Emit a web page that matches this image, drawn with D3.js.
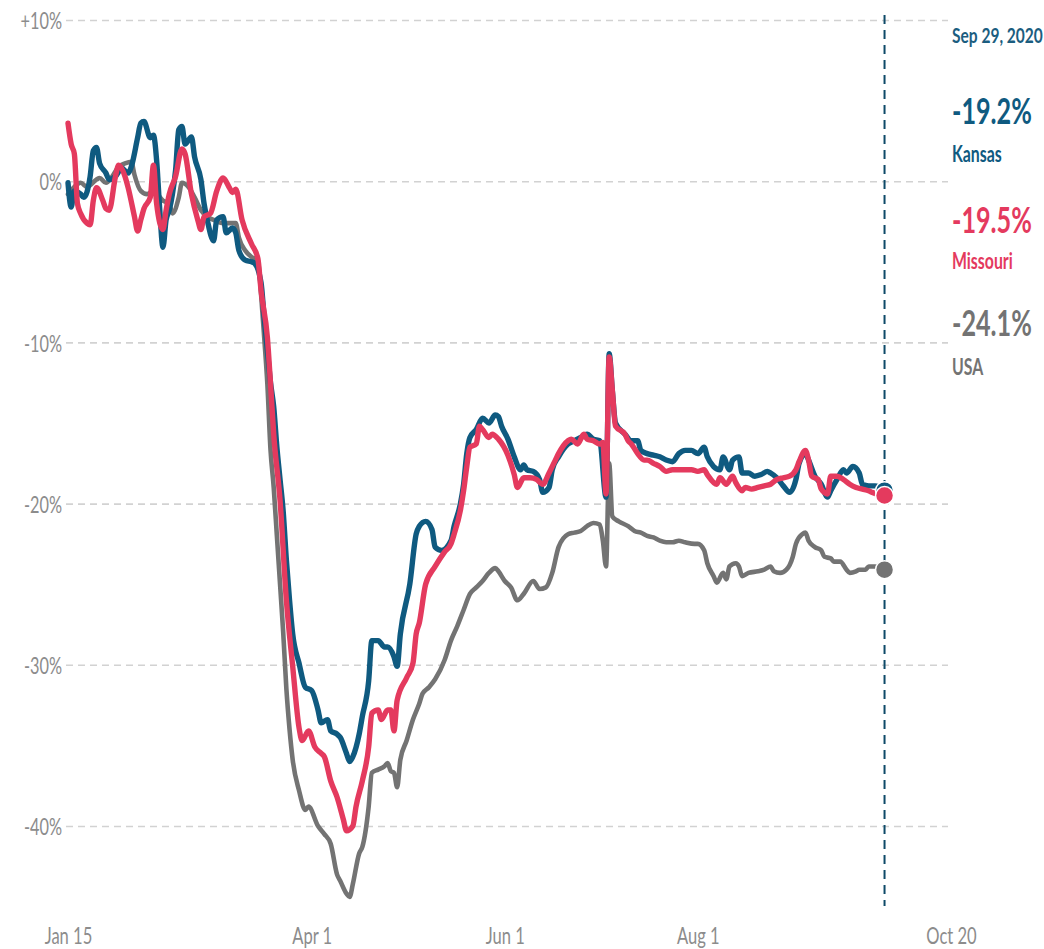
<!DOCTYPE html>
<html>
<head>
<meta charset="utf-8">
<script src="https://cdn.jsdelivr.net/npm/d3@7"></script>
<style>
  html, body { margin: 0; padding: 0; background: #fff; }
  svg { display: block; }
  text { font-family: Lato, "Open Sans", sans-serif; }
</style>
</head>
<body>
<svg id="chart" width="1044" height="949"></svg>
<script>
// ---------- DATA (days since Jan 15, 2020; % change) ----------
const startDate = Date.UTC(2020, 0, 15);
const endDate = Date.UTC(2020, 9, 20);

const kansasDays = [0,1,2,4,5,7,8,9,10,12,13,15,17,19,20,22,23,24,26,27,28,29,30,31,32,33,34,35,36,37,39,40,42,43,44,46,47,49,50,52,53,54,56,58,59,61,62,63,64,65,66,67,68,69,70,71,73,75,77,79,80,82,83,85,86,88,89,90,92,93,95,96,98,100,101,103,104,105,108,110,111,113,115,116,118,121,122,124,125,126,127,129,131,133,135,136,137,139,141,143,144,145,147,149,150,152,153,155,158,160,162,164,166,168,170,171,172,173,176,178,180,181,183,185,187,189,191,193,195,197,199,201,202,204,206,207,209,210,212,213,215,217,219,221,222,224,226,228,230,231,233,234,236,238,240,241,243,245,246,248,250,251,253,255,258];
const kansasValues = [-0.1,-1.6,-0.6,-0.8,-1.0,0.3,1.9,2.1,1.1,0.5,0.1,0.3,0.8,0.5,0.9,2.7,3.6,3.7,2.7,2.85,1.3,-1.8,-4.1,-2.4,-1.8,-0.8,0.7,3.2,3.4,2.3,2.75,1.5,0.1,-1.4,-2.4,-3.7,-2.4,-2.2,-3.2,-2.9,-3.2,-4.3,-4.9,-5.0,-5.1,-6.3,-8.5,-10.5,-12.5,-14.0,-16.5,-18.5,-20.5,-23.5,-26.0,-28.1,-29.9,-31.4,-31.6,-32.8,-33.6,-33.4,-34.1,-34.3,-34.5,-35.5,-36.0,-35.7,-34.3,-33.2,-31.0,-28.5,-28.5,-28.9,-28.9,-29.5,-30.1,-28.1,-25.0,-21.9,-21.4,-21.1,-21.6,-22.7,-22.9,-22.3,-21.4,-20.0,-18.8,-16.9,-15.9,-15.4,-14.7,-15.0,-14.5,-14.6,-15.2,-16.0,-17.1,-17.9,-17.6,-17.9,-18.0,-18.5,-19.3,-19.0,-17.9,-17.1,-16.3,-16.1,-15.9,-15.7,-16.0,-16.1,-19.6,-10.7,-13.0,-15.0,-15.7,-16.1,-16.1,-16.7,-16.9,-17.0,-17.1,-17.3,-17.4,-16.9,-16.7,-16.7,-16.9,-16.5,-17.1,-17.7,-17.9,-17.1,-17.9,-17.3,-17.1,-18.1,-18.1,-18.3,-18.2,-18.0,-18.1,-18.4,-18.9,-19.3,-18.5,-17.5,-16.9,-17.3,-18.3,-18.8,-19.6,-19.2,-18.5,-17.9,-18.1,-17.7,-18.1,-18.8,-18.9,-18.9,-19.2];

const missouriDays = [0,1,2,3,4,6,7,8,9,11,12,13,15,16,18,19,21,22,23,24,26,27,28,30,31,32,34,36,37,39,41,42,43,45,47,49,51,52,53,55,58,60,61,63,64,65,67,69,71,73,74,76,78,80,81,83,85,87,88,90,91,93,95,96,98,99,101,102,103,104,107,109,110,111,113,116,119,121,122,124,125,126,127,129,130,131,133,134,136,139,141,142,144,146,148,150,152,154,155,158,159,161,163,164,166,168,169,170,171,172,173,176,177,178,180,182,183,185,187,189,191,193,195,197,199,201,202,205,206,208,210,211,213,214,216,218,220,222,224,226,228,230,231,233,234,235,237,238,240,241,243,245,247,249,251,253,254,258];
const missouriValues = [3.6,2.3,1.7,-1.4,-2.0,-2.6,-2.7,-1.2,-0.4,-1.2,-1.7,-1.8,0.3,1.0,0.3,-0.4,-2.2,-3.1,-2.4,-1.7,-1.0,1.0,-1.4,-3.0,-1.8,-0.8,0.3,2.0,1.7,-0.8,-2.4,-3.0,-2.2,-2.0,-0.6,0.2,-0.4,-0.7,-0.5,-2.4,-3.9,-4.8,-6.8,-9.7,-12.6,-15.7,-19.8,-26.0,-30.1,-33.9,-34.7,-34.1,-35.1,-35.5,-35.7,-37.2,-38.2,-39.6,-40.3,-40.0,-38.8,-37.2,-35.1,-33.0,-32.8,-33.4,-32.8,-32.8,-34.1,-32.2,-30.8,-29.9,-28.1,-27.4,-25.0,-23.9,-23.0,-22.5,-21.9,-20.4,-19.2,-17.7,-16.5,-16.3,-15.2,-15.4,-15.9,-15.7,-16.0,-17.0,-18.2,-19.0,-18.4,-18.4,-18.5,-18.8,-18.1,-17.3,-16.9,-16.1,-16.0,-16.3,-15.7,-16.0,-16.1,-16.3,-16.2,-19.4,-10.9,-13.0,-15.2,-15.7,-16.1,-16.3,-16.9,-17.3,-17.3,-17.5,-17.7,-18.0,-17.9,-17.9,-17.9,-17.9,-18.0,-17.9,-18.2,-18.8,-18.4,-18.8,-18.3,-18.7,-19.2,-19.0,-19.1,-19.0,-18.9,-18.8,-18.5,-18.4,-18.3,-17.9,-17.4,-16.7,-17.3,-18.3,-18.5,-19.1,-19.4,-18.3,-18.3,-18.5,-18.8,-19.0,-19.1,-19.2,-19.3,-19.5];

const usaDays = [0,2,4,6,9,10,12,14,16,18,20,21,23,25,27,30,32,33,35,36,38,40,42,44,46,49,51,53,54,56,58,60,61,62,63,64,65,66,67,68,69,70,71,73,75,76,79,81,83,85,86,88,89,90,92,93,95,96,98,100,101,102,103,104,105,107,109,111,112,114,116,119,121,123,125,127,129,131,133,135,136,138,140,142,144,147,149,151,153,155,158,160,162,164,166,168,169,170,171,172,174,177,179,181,183,185,187,189,191,193,195,198,199,201,202,204,205,207,208,209,211,212,213,215,218,220,222,223,225,227,229,230,232,233,234,236,238,239,241,242,244,246,247,249,250,252,253,255,258];
const usaValues = [-0.8,-0.35,-0.1,-0.35,0.1,0.2,-0.1,0.3,0.9,1.1,1.2,0.4,-0.6,-0.8,-0.6,-1.2,-1.4,-2.0,-1.0,-0.1,-0.35,-1.0,-1.8,-2.2,-2.4,-2.6,-2.6,-2.6,-3.5,-4.3,-4.7,-4.9,-7.0,-9.7,-12.6,-16.7,-19.0,-22.0,-25.0,-28.0,-31.5,-34.0,-35.9,-37.8,-39.0,-38.8,-40.0,-40.5,-41.1,-43.0,-43.4,-44.2,-44.4,-43.6,-41.7,-41.3,-38.8,-36.7,-36.5,-36.3,-36.1,-36.6,-36.7,-37.6,-35.9,-34.7,-33.4,-32.4,-31.8,-31.4,-30.9,-29.7,-28.5,-27.6,-26.6,-25.6,-25.2,-24.8,-24.3,-24.0,-24.2,-24.8,-25.2,-26.0,-25.6,-24.8,-25.3,-25.2,-24.3,-22.7,-21.9,-21.8,-21.7,-21.4,-21.2,-21.3,-22.3,-23.9,-17.5,-20.8,-21.1,-21.4,-21.7,-21.8,-22.0,-22.1,-22.3,-22.4,-22.4,-22.3,-22.4,-22.5,-22.5,-22.9,-23.7,-24.5,-24.9,-24.3,-24.7,-23.9,-23.7,-23.9,-24.5,-24.3,-24.2,-24.1,-23.9,-24.2,-24.3,-24.1,-23.3,-22.5,-21.9,-21.8,-22.3,-22.7,-22.9,-23.3,-23.4,-23.6,-23.6,-24.1,-24.3,-24.2,-24.1,-24.1,-23.9,-23.9,-24.1];

const yTicks = [10, 0, -10, -20, -30, -40];
const xTickDates = [Date.UTC(2020,0,15), Date.UTC(2020,3,1), Date.UTC(2020,5,1), Date.UTC(2020,7,1), Date.UTC(2020,9,20)];
const lastDateLabel = "Sep 29, 2020";
const seriesNames = ["Kansas", "Missouri", "USA"];
const lastValues = [-19.2, -19.5, -24.1];
const seriesColors = ["#0f5a80", "#e43a5e", "#737373"];

// ---------- SCALES ----------
const svg = d3.select("#chart");
const x = d3.scaleUtc().domain([new Date(startDate), new Date(endDate)]).range([68, 951]);
const y = d3.scaleLinear().domain([-40, 10]).range([826, 20]);
const dayDate = d => new Date(startDate + d * 86400000);

// ---------- Y AXIS + GRID ----------
const kAxis = 0.68;
const gy = svg.append("g").attr("transform", "translate(66,0)")
  .call(d3.axisLeft(y).tickValues(yTicks).tickSize(-882).tickSizeOuter(0).tickPadding(4)
    .tickFormat(v => (v > 0 ? "+" : "") + v + "%"));
gy.select(".domain").remove();
gy.selectAll(".tick line").attr("stroke", "#d2d2d2").attr("stroke-width", 1.6).attr("stroke-dasharray", "7,5");
gy.selectAll(".tick text").attr("fill", "#8c8c8c").style("font-size", "24px").style("font-family", "Lato, sans-serif")
  .attr("x", -4 / kAxis).attr("dy", "0.36em").attr("transform", `scale(${kAxis},1)`);

// ---------- X AXIS ----------
const gx = svg.append("g").attr("transform", "translate(0,922)")
  .call(d3.axisBottom(x).tickValues(xTickDates.map(d => new Date(d))).tickSize(0).tickPadding(0)
    .tickFormat(d3.utcFormat("%b %-d")));
gx.select(".domain").remove();
gx.selectAll(".tick text").attr("fill", "#8c8c8c").style("font-size", "23px").style("font-family", "Lato, sans-serif")
  .attr("y", 22).attr("dy", 0).attr("transform", "scale(0.72,1)");

// ---------- VERTICAL MARKER ----------
const markerDate = dayDate(258);
svg.append("line").attr("x1", x(markerDate)).attr("x2", x(markerDate)).attr("y1", 15).attr("y2", 906)
  .attr("stroke", "#0e4a68").attr("stroke-width", 2).attr("stroke-dasharray", "9,6");

// ---------- LINES ----------
const line = d3.line().x(d => x(dayDate(d[0]))).y(d => y(d[1])).curve(d3.curveMonotoneX);
const series = [
  { days: usaDays, values: usaValues, color: seriesColors[2], last: lastValues[2], w: 4.6 },
  { days: kansasDays, values: kansasValues, color: seriesColors[0], last: lastValues[0], w: 5.4 },
  { days: missouriDays, values: missouriValues, color: seriesColors[1], last: lastValues[1], w: 5.4 }
];
series.forEach(s => {
  const pts = s.days.map((d, i) => [d, s.values[i]]);
  svg.append("path").datum(pts).attr("d", line).attr("fill", "none")
    .attr("stroke", s.color).attr("stroke-width", s.w).attr("stroke-linejoin", "round").attr("stroke-linecap", "round");
});
series.forEach(s => {
  svg.append("circle").attr("cx", x(markerDate)).attr("cy", y(s.last)).attr("r", 9)
    .attr("fill", s.color).attr("stroke", "#fff").attr("stroke-width", 1.5);
});

// ---------- RIGHT ANNOTATIONS ----------
const ann = svg.append("g");
const tx = 952;
function annText(str, yPos, color, size, k) {
  ann.append("text").attr("transform", `translate(${tx},${yPos}) scale(${k},1)`)
    .text(str).attr("fill", color).style("font-size", size + "px").style("font-weight", 700);
}
annText(lastDateLabel, 43, "#1b5d7f", 21, 0.74);
const valY = [124, 233, 336];
const nameY = [162, 269, 375];
seriesNames.forEach((n, i) => {
  annText(lastValues[i].toFixed(1) + "%", valY[i], seriesColors[i], 36, 0.7);
  annText(n, nameY[i], seriesColors[i], 22, 0.72);
});
</script>
</body>
</html>
